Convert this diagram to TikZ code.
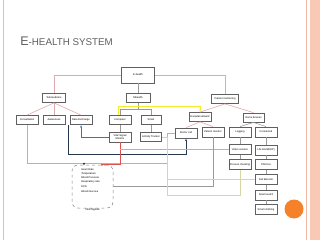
\documentclass[tikz,border=0pt]{standalone}
\usepackage{fontspec}
\setmainfont{Liberation Sans}
\usetikzlibrary{arrows.meta}

\definecolor{slidepink}{HTML}{F4B6A6}
\definecolor{slidepeach}{HTML}{F9C9B6}
\definecolor{dotorange}{HTML}{F5822A}
\definecolor{linkpink}{HTML}{E2A9AC}
\definecolor{linkgray}{HTML}{9A9A9A}
\definecolor{linkyellow}{HTML}{F3EC2A}
\definecolor{linkblue}{HTML}{2F78B8}
\definecolor{linksteel}{HTML}{A3B6CF}
\definecolor{linknavy}{HTML}{26384F}
\definecolor{linkgreen}{HTML}{86CDB0}
\definecolor{linkred}{HTML}{D9534F}
\definecolor{linkkhaki}{HTML}{D8D5A6}
\definecolor{titlegray}{HTML}{5F5F5F}

\begin{document}
\begin{tikzpicture}[x=1pt, y=-1pt, line width=0.6pt,
  box/.style={draw=gray!75!black, line width=0.8pt, fill=white,
    minimum width=22pt, minimum height=9pt, inner sep=0.5pt,
    font=\fontsize{2.6}{3}\selectfont, align=center},
  pinkline/.style={draw=linkpink},
  grayline/.style={draw=linkgray},
  dotstart/.style={{Circle[length=2pt]}-}]

  % Slide background
  \useasboundingbox (0,0) rectangle (320,240);
  \fill[white] (0,0) rectangle (320,240);
  \draw[slidepink, line width=0.8pt] (3.5,0) -- (3.5,240);
  \draw[slidepink, line width=0.8pt] (306.5,0) -- (306.5,240);
  \fill[slidepeach] (310,0) rectangle (320,240);
  \fill[dotorange] (294,209) circle (9.5);
  \node[anchor=base west, inner sep=0, text=titlegray] (title) at (20,46)
    {\fontsize{12.5}{14}\selectfont E\fontsize{9.8}{12}\selectfont -HEALTH SYSTEM};

  % Tree of boxes
  \node[box, minimum width=33pt, minimum height=16pt] (ehealth) at (138,75) {E-health};
  \node[box, minimum width=23pt] (tele)    at (54,98)  {Telemedicine};
  \node[box, minimum width=24pt] (mhealth) at (138,98) {Mhealth};
  \node[box, minimum width=27pt] (patmon)  at (225,99) {Patient monitoring};

  \node[box] (consult)  at (27,120)  {Consultation};
  \node[box] (aware)    at (54,120)  {Awareness};
  \node[box] (dataex)   at (81,120)  {Data Exchange};
  \node[box] (computer) at (120,120) {Computer};
  \node[box, minimum width=20pt] (smart) at (151,120) {Smart};
  \node[box] (hospnet)  at (200,117) {Hospital network};
  \node[box, minimum width=21pt] (homedev) at (253.5,117.5) {Home devices};

  \node[box, minimum height=10pt] (vsm)      at (120,137) {Vital Signal\\Monitor};
  \node[box, minimum width=21pt] (activity)  at (151,137) {Activity Tracker};
  \node[box, minimum height=10pt] (doccell)  at (186,133) {Doctor cell};
  \node[box, minimum height=10pt] (patmonitor) at (213,132) {Patient monitor};
  \node[box, minimum height=10pt] (logging)  at (240,132) {Logging};
  \node[box, minimum height=10pt] (connected) at (266,132) {Connected};

  \node[box, minimum height=10pt] (video)     at (240,149.5) {Video session};
  \node[box, minimum height=10pt] (lifealert) at (266,150) {Life Alert(ERP)};
  \node[box, minimum height=10pt] (process)   at (240,164.5) {Process checking};
  \node[box, minimum height=10pt] (pills)     at (266,164.5) {Pills box};
  \node[box, minimum height=10pt] (fall)      at (266,179.5) {Fall detector};
  \node[box, minimum height=10pt] (watch)     at (266,195) {Smart watch};
  \node[box, minimum height=10pt] (clothing)  at (266,209.5) {Smart clothing};

  % Vital signals group
  \node[draw=gray, dashed, rounded corners=6pt, line width=0.5pt,
    minimum width=41pt, minimum height=43pt] (vitals) at (92.5,186.5) {};
  \node[anchor=north west, inner sep=0, align=left,
    font=\fontsize{2.6}{4.1}\selectfont] (vitlist) at (81,168.5)
    {Heart Rate\\Temperature\\Blood Pressure\\Respiratory rate\\[1pt]ECG\\Blood Glucose};
  \node[inner sep=0, font=\fontsize{2.6}{3}\selectfont] (vitname) at (92.5,209.5) {Vital Signals};

  % Tree links
  \draw[pinkline] (ehealth.west) -| (tele.north);
  \draw[pinkline] (ehealth.east) -| (patmon.north);
  \draw[grayline] (ehealth.south) -- (mhealth.north);
  \foreach \kid in {consult, aware, dataex}
    \draw[pinkline] (tele.south) -- (\kid.north);
  \draw[grayline] (mhealth.south) -- ++(0,6) -| (computer.north);
  \draw[grayline] (mhealth.south) -- ++(0,6) -| (smart.north);
  \foreach \kid in {hospnet, homedev}
    \draw[pinkline] (patmon.south) -- (\kid.north);
  \foreach \kid in {doccell, patmonitor}
    \draw[pinkline] (hospnet.south) -- (\kid.north);
  \foreach \kid in {logging, connected}
    \draw[grayline] (homedev.south) -- (\kid.north);
  \draw[grayline] (computer) -- (vsm);
  \draw[grayline] (smart) -- (activity);
  \draw[grayline] (logging) -- (video) -- (process);
  \draw[grayline] (connected) -- (lifealert) -- (pills) -- (fall) -- (watch) -- (clothing);

  % Data links
  \draw[linkyellow, line width=0.8pt, dotstart, -{Latex[length=2.5pt]}]
    ([xshift=-2pt]computer.north) |- ([yshift=6pt]hospnet.north) -- (hospnet.north);
  \draw[linkblue, -{Latex[length=2.5pt]}] (vsm.west) -| (dataex.south);
  \draw[linknavy, line width=0.8pt, -{Latex[length=2.5pt]}]
    ([xshift=-1pt]dataex.south west) |- ([yshift=-16pt]doccell.south) -- (doccell.south);
  \draw[linksteel, line width=0.8pt]
    (consult.south) |- ([xshift=-7pt,yshift=-30pt]doccell.west) |- (doccell.west);
  \draw[linknavy, dotstart] ([xshift=-8.5pt]vitals.north) -- ++(0,-1.5);
  \draw[linkred, dotstart] ([xshift=8.5pt]vitals.north) -| (vsm.south);
  \draw[linkgreen, line width=0.8pt] ([yshift=-7pt]vsm.south) |- (video.west);
  \draw[linkgray] (vitals.east) -| (patmonitor.south);
  \draw[linkkhaki] (activity.east) -- ++(5,0) |- ([yshift=-25pt]process.south) -- (process.south);
  \draw[linkkhaki] (fall.west) -- ([xshift=5pt]activity.east |- fall.west);

\end{tikzpicture}
\end{document}
